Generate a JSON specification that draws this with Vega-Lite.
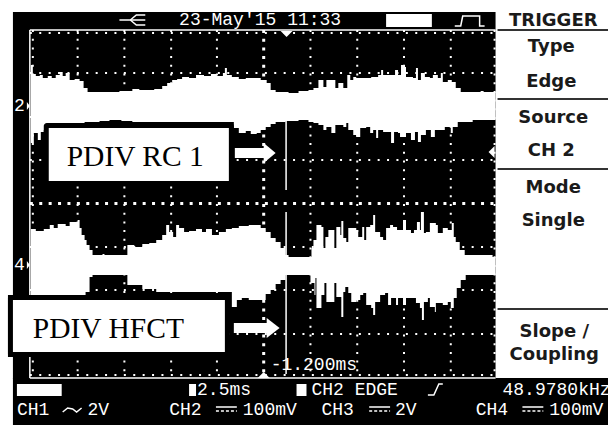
{
"$schema":"https://vega.github.io/schema/vega-lite/v6.json",
"width":611,"height":425,"autosize":{"type":"fit","contains":"padding"},"padding":0,
"background":"white","view":{"stroke":null},
"encoding":{
 "x":{"field":"x","type":"quantitative","scale":{"domain":[0,611],"nice":false,"zero":false},"axis":null},
 "y":{"field":"y","type":"quantitative","scale":{"domain":[425,0],"nice":false,"zero":false},"axis":null}
},
"datasets":{
 "wave":[
 {"s":"2t","x":31,"y":65},{"s":"2t","x":33,"y":74},{"s":"2t","x":36,"y":76},{"s":"2t","x":40,"y":75},{"s":"2t","x":43,"y":78},{"s":"2t","x":48,"y":76},{"s":"2t","x":52,"y":78},{"s":"2t","x":56,"y":75},{"s":"2t","x":60,"y":72},{"s":"2t","x":63,"y":76},{"s":"2t","x":66,"y":73},{"s":"2t","x":70,"y":80},{"s":"2t","x":75,"y":79},{"s":"2t","x":80,"y":81},{"s":"2t","x":84,"y":88},{"s":"2t","x":88,"y":92},{"s":"2t","x":120,"y":91},{"s":"2t","x":133,"y":89},{"s":"2t","x":140,"y":90},{"s":"2t","x":155,"y":89},{"s":"2t","x":163,"y":86},{"s":"2t","x":168,"y":83},{"s":"2t","x":173,"y":80},{"s":"2t","x":178,"y":79},{"s":"2t","x":183,"y":77},{"s":"2t","x":190,"y":78},{"s":"2t","x":197,"y":75},{"s":"2t","x":205,"y":76},{"s":"2t","x":212,"y":74},{"s":"2t","x":218,"y":76},{"s":"2t","x":224,"y":73},{"s":"2t","x":226,"y":68},{"s":"2t","x":228,"y":75},{"s":"2t","x":233,"y":77},{"s":"2t","x":240,"y":79},{"s":"2t","x":247,"y":78},{"s":"2t","x":255,"y":78},{"s":"2t","x":262,"y":80},{"s":"2t","x":268,"y":83},{"s":"2t","x":272,"y":90},{"s":"2t","x":277,"y":92},{"s":"2t","x":290,"y":93},{"s":"2t","x":300,"y":91},{"s":"2t","x":310,"y":90},{"s":"2t","x":315,"y":88},{"s":"2t","x":320,"y":80},{"s":"2t","x":325,"y":87},{"s":"2t","x":328,"y":80},{"s":"2t","x":337,"y":88},{"s":"2t","x":340,"y":83},{"s":"2t","x":345,"y":88},{"s":"2t","x":349,"y":75},{"s":"2t","x":352,"y":80},{"s":"2t","x":355,"y":77},{"s":"2t","x":358,"y":78},{"s":"2t","x":373,"y":77},{"s":"2t","x":380,"y":75},{"s":"2t","x":383,"y":70},{"s":"2t","x":385,"y":75},{"s":"2t","x":397,"y":70},{"s":"2t","x":400,"y":75},{"s":"2t","x":403,"y":65},{"s":"2t","x":407,"y":67},{"s":"2t","x":408,"y":77},{"s":"2t","x":415,"y":78},{"s":"2t","x":418,"y":68},{"s":"2t","x":420,"y":80},{"s":"2t","x":423,"y":73},{"s":"2t","x":427,"y":77},{"s":"2t","x":432,"y":78},{"s":"2t","x":435,"y":75},{"s":"2t","x":440,"y":78},{"s":"2t","x":443,"y":73},{"s":"2t","x":445,"y":82},{"s":"2t","x":450,"y":80},{"s":"2t","x":454,"y":82},{"s":"2t","x":458,"y":88},{"s":"2t","x":463,"y":92},{"s":"2t","x":483,"y":91},{"s":"2t","x":486,"y":92},{"s":"2t","x":498,"y":93},
 {"s":"2b","x":31,"y":143},{"s":"2b","x":34,"y":133},{"s":"2b","x":38,"y":140},{"s":"2b","x":41,"y":132},{"s":"2b","x":44,"y":130},{"s":"2b","x":85,"y":122},{"s":"2b","x":100,"y":121},{"s":"2b","x":110,"y":120},{"s":"2b","x":122,"y":121},{"s":"2b","x":133,"y":122},{"s":"2b","x":235,"y":128},{"s":"2b","x":240,"y":133},{"s":"2b","x":247,"y":131},{"s":"2b","x":252,"y":134},{"s":"2b","x":258,"y":133},{"s":"2b","x":262,"y":130},{"s":"2b","x":267,"y":127},{"s":"2b","x":272,"y":124},{"s":"2b","x":277,"y":122},{"s":"2b","x":287,"y":121},{"s":"2b","x":300,"y":120},{"s":"2b","x":310,"y":122},{"s":"2b","x":315,"y":123},{"s":"2b","x":320,"y":125},{"s":"2b","x":325,"y":130},{"s":"2b","x":328,"y":127},{"s":"2b","x":333,"y":133},{"s":"2b","x":337,"y":125},{"s":"2b","x":345,"y":127},{"s":"2b","x":348,"y":123},{"s":"2b","x":350,"y":130},{"s":"2b","x":355,"y":135},{"s":"2b","x":358,"y":137},{"s":"2b","x":362,"y":128},{"s":"2b","x":368,"y":127},{"s":"2b","x":372,"y":133},{"s":"2b","x":375,"y":130},{"s":"2b","x":378,"y":138},{"s":"2b","x":380,"y":130},{"s":"2b","x":385,"y":132},{"s":"2b","x":393,"y":143},{"s":"2b","x":396,"y":132},{"s":"2b","x":400,"y":133},{"s":"2b","x":402,"y":137},{"s":"2b","x":408,"y":133},{"s":"2b","x":413,"y":140},{"s":"2b","x":417,"y":132},{"s":"2b","x":420,"y":142},{"s":"2b","x":423,"y":135},{"s":"2b","x":428,"y":130},{"s":"2b","x":433,"y":137},{"s":"2b","x":437,"y":130},{"s":"2b","x":447,"y":127},{"s":"2b","x":453,"y":133},{"s":"2b","x":455,"y":127},{"s":"2b","x":460,"y":122},{"s":"2b","x":475,"y":120},{"s":"2b","x":498,"y":121},
 {"s":"4t","x":31,"y":229},{"s":"4t","x":36,"y":231},{"s":"4t","x":44,"y":229},{"s":"4t","x":50,"y":225},{"s":"4t","x":54,"y":228},{"s":"4t","x":58,"y":224},{"s":"4t","x":66,"y":226},{"s":"4t","x":70,"y":222},{"s":"4t","x":78,"y":220},{"s":"4t","x":80,"y":228},{"s":"4t","x":82,"y":235},{"s":"4t","x":85,"y":240},{"s":"4t","x":87,"y":245},{"s":"4t","x":90,"y":250},{"s":"4t","x":93,"y":255},{"s":"4t","x":103,"y":254},{"s":"4t","x":105,"y":255},{"s":"4t","x":125,"y":255},{"s":"4t","x":128,"y":245},{"s":"4t","x":135,"y":247},{"s":"4t","x":143,"y":244},{"s":"4t","x":150,"y":243},{"s":"4t","x":157,"y":240},{"s":"4t","x":163,"y":235},{"s":"4t","x":167,"y":225},{"s":"4t","x":170,"y":232},{"s":"4t","x":174,"y":237},{"s":"4t","x":177,"y":225},{"s":"4t","x":180,"y":228},{"s":"4t","x":185,"y":232},{"s":"4t","x":190,"y":231},{"s":"4t","x":197,"y":229},{"s":"4t","x":203,"y":232},{"s":"4t","x":207,"y":229},{"s":"4t","x":213,"y":235},{"s":"4t","x":220,"y":232},{"s":"4t","x":227,"y":229},{"s":"4t","x":233,"y":228},{"s":"4t","x":240,"y":226},{"s":"4t","x":250,"y":225},{"s":"4t","x":258,"y":225},{"s":"4t","x":262,"y":228},{"s":"4t","x":267,"y":232},{"s":"4t","x":272,"y":238},{"s":"4t","x":277,"y":242},{"s":"4t","x":282,"y":248},{"s":"4t","x":287,"y":255},{"s":"4t","x":290,"y":257},{"s":"4t","x":313,"y":248},{"s":"4t","x":315,"y":240},{"s":"4t","x":318,"y":225},{"s":"4t","x":323,"y":227},{"s":"4t","x":325,"y":248},{"s":"4t","x":327,"y":237},{"s":"4t","x":330,"y":230},{"s":"4t","x":336,"y":248},{"s":"4t","x":338,"y":227},{"s":"4t","x":342,"y":235},{"s":"4t","x":343,"y":221},{"s":"4t","x":345,"y":238},{"s":"4t","x":348,"y":242},{"s":"4t","x":350,"y":228},{"s":"4t","x":358,"y":230},{"s":"4t","x":360,"y":237},{"s":"4t","x":364,"y":227},{"s":"4t","x":366,"y":240},{"s":"4t","x":368,"y":227},{"s":"4t","x":372,"y":225},{"s":"4t","x":375,"y":215},{"s":"4t","x":377,"y":232},{"s":"4t","x":382,"y":237},{"s":"4t","x":385,"y":240},{"s":"4t","x":388,"y":228},{"s":"4t","x":392,"y":225},{"s":"4t","x":395,"y":227},{"s":"4t","x":399,"y":230},{"s":"4t","x":405,"y":220},{"s":"4t","x":408,"y":230},{"s":"4t","x":413,"y":233},{"s":"4t","x":416,"y":230},{"s":"4t","x":419,"y":222},{"s":"4t","x":422,"y":230},{"s":"4t","x":423,"y":212},{"s":"4t","x":426,"y":233},{"s":"4t","x":428,"y":232},{"s":"4t","x":432,"y":223},{"s":"4t","x":438,"y":225},{"s":"4t","x":440,"y":233},{"s":"4t","x":445,"y":228},{"s":"4t","x":450,"y":230},{"s":"4t","x":454,"y":223},{"s":"4t","x":456,"y":237},{"s":"4t","x":458,"y":242},{"s":"4t","x":462,"y":250},{"s":"4t","x":467,"y":255},{"s":"4t","x":475,"y":255},{"s":"4t","x":495,"y":257},{"s":"4t","x":498,"y":257},
 {"s":"4b","x":31,"y":300},{"s":"4b","x":86,"y":292},{"s":"4b","x":90,"y":277},{"s":"4b","x":93,"y":275},{"s":"4b","x":125,"y":275},{"s":"4b","x":128,"y":285},{"s":"4b","x":143,"y":289},{"s":"4b","x":157,"y":292},{"s":"4b","x":233,"y":307},{"s":"4b","x":238,"y":300},{"s":"4b","x":243,"y":298},{"s":"4b","x":250,"y":300},{"s":"4b","x":267,"y":294},{"s":"4b","x":272,"y":290},{"s":"4b","x":277,"y":284},{"s":"4b","x":282,"y":280},{"s":"4b","x":287,"y":275},{"s":"4b","x":312,"y":283},{"s":"4b","x":316,"y":295},{"s":"4b","x":317,"y":278},{"s":"4b","x":318,"y":308},{"s":"4b","x":323,"y":295},{"s":"4b","x":326,"y":283},{"s":"4b","x":328,"y":302},{"s":"4b","x":336,"y":283},{"s":"4b","x":338,"y":297},{"s":"4b","x":343,"y":317},{"s":"4b","x":345,"y":292},{"s":"4b","x":347,"y":287},{"s":"4b","x":350,"y":293},{"s":"4b","x":353,"y":302},{"s":"4b","x":358,"y":300},{"s":"4b","x":362,"y":295},{"s":"4b","x":365,"y":293},{"s":"4b","x":368,"y":305},{"s":"4b","x":373,"y":308},{"s":"4b","x":375,"y":315},{"s":"4b","x":377,"y":302},{"s":"4b","x":382,"y":295},{"s":"4b","x":387,"y":293},{"s":"4b","x":390,"y":305},{"s":"4b","x":393,"y":298},{"s":"4b","x":398,"y":305},{"s":"4b","x":400,"y":298},{"s":"4b","x":405,"y":305},{"s":"4b","x":408,"y":298},{"s":"4b","x":418,"y":303},{"s":"4b","x":422,"y":308},{"s":"4b","x":424,"y":320},{"s":"4b","x":426,"y":302},{"s":"4b","x":430,"y":298},{"s":"4b","x":432,"y":307},{"s":"4b","x":437,"y":312},{"s":"4b","x":438,"y":303},{"s":"4b","x":445,"y":305},{"s":"4b","x":450,"y":302},{"s":"4b","x":453,"y":308},{"s":"4b","x":456,"y":298},{"s":"4b","x":459,"y":288},{"s":"4b","x":463,"y":280},{"s":"4b","x":468,"y":275},{"s":"4b","x":498,"y":274}
 ],
 "blackRects":[{"x":13,"x2":498,"y":12,"y2":379},{"x":13,"x2":611,"y":378,"y2":425},{"x":44,"x2":235,"y":123,"y2":186},{"x":8,"x2":231,"y":295,"y2":357}],
 "whiteRects":[{"x":49,"x2":230,"y":128,"y2":181},{"x":13,"x2":226,"y":300,"y2":352},{"x":236,"x2":266,"y":148,"y2":158},{"x":235,"x2":269,"y":323,"y2":333},{"x":388,"x2":434,"y":14,"y2":27},{"x":17,"x2":62,"y":384,"y2":396},{"x":190,"x2":197,"y":384,"y2":396},{"x":298,"x2":308,"y":384,"y2":396}],
 "tris":[
 {"id":"a1","x":265,"y":143,"y2":163},{"id":"a1","x":277,"y":153,"y2":153},
 {"id":"a2","x":268,"y":318,"y2":338},{"id":"a2","x":281,"y":328,"y2":328},
 {"id":"t","x":282,"y":31,"y2":31},{"id":"t","x":288,"y":37,"y2":31},{"id":"t","x":294,"y":31,"y2":31},
 {"id":"b","x":259,"y":378,"y2":378},{"id":"b","x":265,"y":378,"y2":372},{"id":"b","x":271,"y":378,"y2":378},
 {"id":"r","x":491,"y":152,"y2":152},{"id":"r","x":497,"y":146,"y2":158},
 {"id":"c2","x":27,"y":102,"y2":110},{"id":"c2","x":30,"y":106,"y2":106},
 {"id":"c4","x":27,"y":261,"y2":269},{"id":"c4","x":30,"y":265,"y2":265}],
 "gridV":[{"x":78,"y":30,"y2":378},{"x":125,"y":30,"y2":378},{"x":172,"y":30,"y2":378},{"x":218,"y":30,"y2":378},{"x":312,"y":30,"y2":378},{"x":359,"y":30,"y2":378},{"x":406,"y":30,"y2":378},{"x":453,"y":30,"y2":378},{"x":497,"y":30,"y2":378},{"x":33,"y":30,"y2":378}],
 "gridH":[{"y":73,"x":30,"x2":498},{"y":117,"x":30,"x2":498},{"y":160,"x":30,"x2":498},{"y":247,"x":30,"x2":498},{"y":290,"x":30,"x2":498},{"y":334,"x":30,"x2":498},{"y":33,"x":30,"x2":498},{"y":375,"x":30,"x2":498}],
 "centerV":[{"x":265,"y":30,"y2":378}],
 "centerH":[{"y":203.5,"x":30,"x2":498}],
 "frame":[{"x":30,"y":30,"x2":498,"y2":30},{"x":30,"y":378,"x2":498,"y2":378},{"x":30,"y":30,"x2":30,"y2":378},{"x":287.5,"y":120,"x2":287.5,"y2":190},{"x":287.5,"y":212,"x2":287.5,"y2":374}],
 "separators":[{"x":500,"y":30,"x2":611},{"x":500,"y":99,"x2":611},{"x":500,"y":169,"x2":611},{"x":500,"y":309,"x2":611}],
 "icons":[
 {"id":"usb","x":120,"y":20},{"id":"usb","x":146,"y":20},
 {"id":"usb2","x":131,"y":20},{"id":"usb2","x":137,"y":15},{"id":"usb2","x":146,"y":15},
 {"id":"usb3","x":131,"y":20},{"id":"usb3","x":137,"y":25},{"id":"usb3","x":146,"y":25},
 {"id":"pulse","x":457,"y":26},{"id":"pulse","x":463,"y":26},{"id":"pulse","x":465,"y":16},{"id":"pulse","x":482,"y":16},{"id":"pulse","x":482,"y":26},{"id":"pulse","x":487,"y":26},
 {"id":"slope","x":430,"y":395},{"id":"slope","x":436,"y":395},{"id":"slope","x":441,"y":384},{"id":"slope","x":445,"y":384},
 {"id":"tilde","x":63,"y":412},{"id":"tilde","x":68,"y":408},{"id":"tilde","x":73,"y":409},{"id":"tilde","x":77,"y":412},{"id":"tilde","x":82,"y":408},
 {"id":"c2a","x":217,"y":407},{"id":"c2a","x":238,"y":407},
 {"id":"c3a","x":371,"y":407},{"id":"c3a","x":392,"y":407},
 {"id":"c4a","x":525,"y":407},{"id":"c4a","x":546,"y":407}],
 "iconsDash":[{"id":"c2b","x":217,"y":411},{"id":"c2b","x":238,"y":411},{"id":"c3b","x":371,"y":411},{"id":"c3b","x":392,"y":411},{"id":"c4b","x":525,"y":411},{"id":"c4b","x":546,"y":411}],
 "screenText":[
 {"x":180,"y":20,"t":"23-May'15 11:33"},
 {"x":198,"y":390,"t":"2.5ms"},{"x":313,"y":390,"t":"CH2 EDGE"},{"x":505,"y":390,"t":"48.9780kHz"},
 {"x":17,"y":410,"t":"CH1"},{"x":88,"y":410,"t":"2V"},{"x":170,"y":410,"t":"CH2"},{"x":244,"y":410,"t":"100mV"},{"x":323,"y":410,"t":"CH3"},{"x":397,"y":410,"t":"2V"},{"x":478,"y":410,"t":"CH4"},{"x":552,"y":410,"t":"100mV"},
 {"x":272,"y":365,"t":"-1.200ms"},{"x":14,"y":106,"t":"2"},{"x":14,"y":265,"t":"4"}],
 "menuText":[
 {"x":556,"y":21,"t":"TRIGGER"},{"x":554,"y":47,"t":"Type"},{"x":554,"y":82,"t":"Edge"},{"x":556,"y":118,"t":"Source"},{"x":554,"y":151,"t":"CH 2"},{"x":556,"y":188,"t":"Mode"},{"x":556,"y":221,"t":"Single"},{"x":557,"y":332,"t":"Slope /"},{"x":557,"y":355,"t":"Coupling"}],
 "labels":[{"x":67,"y":157,"t":"PDIV RC 1"},{"x":33,"y":329,"t":"PDIV HFCT"}]
},
"layer":[
 {"data":{"name":"blackRects"},"transform":[{"filter":"datum.y2>300 || datum.y<100"}],"mark":{"type":"rect","color":"black"},"encoding":{"x2":{"field":"x2"},"y2":{"field":"y2"}}},
 {"data":{"name":"gridV"},"mark":{"type":"rule","color":"white","strokeWidth":2,"strokeDash":[2,6.7]},"encoding":{"y2":{"field":"y2"}}},
 {"data":{"name":"gridH"},"mark":{"type":"rule","color":"white","strokeWidth":2,"strokeDash":[2,7.4]},"encoding":{"x2":{"field":"x2"}}},
 {"data":{"name":"centerV"},"mark":{"type":"rule","color":"white","strokeWidth":3,"strokeDash":[3,5.7]},"encoding":{"y2":{"field":"y2"}}},
 {"data":{"name":"centerH"},"mark":{"type":"rule","color":"white","strokeWidth":3,"strokeDash":[3,6.4]},"encoding":{"x2":{"field":"x2"}}},
 {"data":{"name":"wave"},"transform":[{"filter":"indexof(datum.s,'2')==0"}],"mark":{"type":"area","color":"white","interpolate":"step-after"},"encoding":{"detail":{"field":"s"},"y2":{"datum":105}}},
 {"data":{"name":"wave"},"transform":[{"filter":"indexof(datum.s,'4')==0"}],"mark":{"type":"area","color":"white","interpolate":"step-after"},"encoding":{"detail":{"field":"s"},"y2":{"datum":265}}},
 {"data":{"name":"frame"},"mark":{"type":"rule","color":"white","strokeWidth":1.5},"encoding":{"x2":{"field":"x2"},"y2":{"field":"y2"}}},
 {"data":{"name":"blackRects"},"transform":[{"filter":"datum.y>100 && datum.y2<360"}],"mark":{"type":"rect","color":"black","cornerRadius":3},"encoding":{"x2":{"field":"x2"},"y2":{"field":"y2"}}},
 {"data":{"name":"whiteRects"},"mark":{"type":"rect","color":"white"},"encoding":{"x2":{"field":"x2"},"y2":{"field":"y2"}}},
 {"data":{"name":"tris"},"mark":{"type":"area","color":"white"},"encoding":{"detail":{"field":"id"},"y2":{"field":"y2"}}},
 {"data":{"name":"icons"},"mark":{"type":"line","color":"white","strokeWidth":1.5},"encoding":{"detail":{"field":"id"}}},
 {"data":{"name":"iconsDash"},"mark":{"type":"line","color":"white","strokeWidth":1.5,"strokeDash":[3,2]},"encoding":{"detail":{"field":"id"}}},
 {"data":{"name":"separators"},"mark":{"type":"rule","color":"#333333","strokeWidth":2},"encoding":{"x2":{"field":"x2"}}},
 {"data":{"name":"screenText"},"mark":{"type":"text","font":"Liberation Mono","fontSize":18,"color":"white","align":"left","baseline":"middle"},"encoding":{"text":{"field":"t"}}},
 {"data":{"name":"menuText"},"mark":{"type":"text","font":"DejaVu Sans","fontWeight":"bold","fontSize":18,"color":"#1a1a1a","align":"center","baseline":"middle"},"encoding":{"text":{"field":"t"}}},
 {"data":{"name":"labels"},"mark":{"type":"text","font":"Liberation Serif","fontSize":29.5,"color":"black","align":"left","baseline":"middle"},"encoding":{"text":{"field":"t"}}}
]
}
